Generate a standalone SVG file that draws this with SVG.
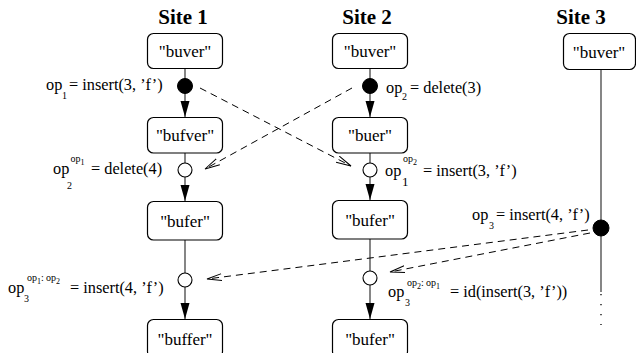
<svg xmlns="http://www.w3.org/2000/svg" width="636" height="353" viewBox="0 0 636 353" font-family="'Liberation Serif', 'Times New Roman', serif">
<defs>
<style>
.box{fill:#fff;stroke:#000;stroke-width:1.2}
.bt{font-size:17px;text-anchor:middle}
.hd{font-size:21px;font-weight:bold;text-anchor:middle}
.t{font-size:16.3px}
.s{font-size:10px}
.ss{font-size:8px}
.v{stroke:#222;stroke-width:1.1;fill:none}
.d{stroke:#000;stroke-width:1;fill:none;stroke-dasharray:7,5}
.fc{fill:#000;stroke:#000}
.oc{fill:#fff;stroke:#000;stroke-width:1.1}
</style>
<marker id="ah" markerWidth="16" markerHeight="10" refX="15" refY="5" orient="auto" markerUnits="userSpaceOnUse">
<path d="M0,1.5 L15,5 L0,8.5" fill="none" stroke="#000" stroke-width="1"/>
</marker>
<marker id="fh" markerWidth="10" markerHeight="16" refX="5" refY="16" orient="0" markerUnits="userSpaceOnUse">
<path d="M0.5,0 L9.5,0 L5,16 Z" fill="#000"/>
</marker>
</defs>

<g id="headers" font-family="'Liberation Serif', serif">
<text class="hd" x="183" y="24">Site 1</text>
<text class="hd" x="367" y="24">Site 2</text>
<text class="hd" x="581" y="24">Site 3</text>
</g>

<g id="connectors">
<line class="v" x1="185" y1="68" x2="185" y2="79"/>
<line class="v" x1="185" y1="93" x2="185" y2="117" marker-end="url(#fh)"/>
<line class="v" x1="185" y1="153" x2="185" y2="163"/>
<line class="v" x1="185" y1="177" x2="185" y2="201" marker-end="url(#fh)"/>
<line class="v" x1="185" y1="240" x2="185" y2="273"/>
<line class="v" x1="185" y1="287" x2="185" y2="319" marker-end="url(#fh)"/>
<line class="v" x1="370" y1="68" x2="370" y2="79"/>
<line class="v" x1="370" y1="93" x2="370" y2="117" marker-end="url(#fh)"/>
<line class="v" x1="370" y1="153" x2="370" y2="163"/>
<line class="v" x1="370" y1="177" x2="370" y2="200" marker-end="url(#fh)"/>
<line class="v" x1="370" y1="239" x2="370" y2="271"/>
<line class="v" x1="370" y1="285" x2="370" y2="319" marker-end="url(#fh)"/>
<line class="v" x1="601" y1="70" x2="601" y2="292"/>
<line x1="601" y1="294" x2="601" y2="325" stroke="#000" stroke-width="1.3" stroke-dasharray="1.3,8.7"/>
<line class="d" x1="200" y1="88" x2="351" y2="166" marker-end="url(#ah)"/>
<line class="d" x1="352" y1="88" x2="205" y2="169" marker-end="url(#ah)"/>
<line class="d" x1="588" y1="230" x2="207" y2="279" marker-end="url(#ah)"/>
<line class="d" x1="590" y1="233" x2="390" y2="272" marker-end="url(#ah)"/>
</g>

<g id="s1-buver"><rect class="box" x="147.5" y="33.5" width="75" height="35" rx="6"/><text class="bt" x="185" y="57" font-family="'Liberation Serif', serif">"buver"</text></g>
<g id="s1-op1"><circle class="fc" cx="185" cy="86" r="7.5"/></g>
<g id="s1-bufver"><rect class="box" x="147.5" y="117.5" width="75" height="35.5" rx="6"/><text class="bt" x="185" y="141" font-family="'Liberation Serif', serif">"bufver"</text></g>
<g id="s1-op2t"><circle class="oc" cx="185" cy="170" r="7"/></g>
<g id="s1-bufer"><rect class="box" x="147.5" y="201.5" width="75" height="38.5" rx="6"/><text class="bt" x="185" y="226.5" font-family="'Liberation Serif', serif">"bufer"</text></g>
<g id="s1-op3t"><circle class="oc" cx="185" cy="280" r="7"/></g>
<g id="s1-buffer"><rect class="box" x="147.5" y="319.5" width="75" height="38" rx="6"/><text class="bt" x="185" y="345" font-family="'Liberation Serif', serif">"buffer"</text></g>

<g id="s2-buver"><rect class="box" x="332.5" y="33.5" width="75" height="35" rx="6"/><text class="bt" x="370" y="57" font-family="'Liberation Serif', serif">"buver"</text></g>
<g id="s2-op2"><circle class="fc" cx="370" cy="86" r="7.5"/></g>
<g id="s2-buer"><rect class="box" x="332.5" y="117.5" width="75" height="35.5" rx="6"/><text class="bt" x="370" y="141" font-family="'Liberation Serif', serif">"buer"</text></g>
<g id="s2-op1t"><circle class="oc" cx="370" cy="170" r="7"/></g>
<g id="s2-bufer"><rect class="box" x="332.5" y="200.5" width="75" height="38.5" rx="6"/><text class="bt" x="370" y="225.5" font-family="'Liberation Serif', serif">"bufer"</text></g>
<g id="s2-op3t"><circle class="oc" cx="370" cy="278" r="7"/></g>
<g id="s2-bufer2"><rect class="box" x="332.5" y="319.5" width="75" height="38" rx="6"/><text class="bt" x="370" y="345" font-family="'Liberation Serif', serif">"bufer"</text></g>

<g id="s3-buver"><rect class="box" x="563.5" y="33.5" width="72" height="36" rx="6"/><text class="bt" x="599" y="57.5" font-family="'Liberation Serif', serif">"buver"</text></g>
<g id="s3-op3"><circle class="fc" cx="601" cy="228" r="8"/></g>

<g id="labels" font-family="'Liberation Serif', serif">
<text class="t" x="46" y="90">op</text><text class="s" x="62" y="99">1</text><text class="t" x="69" y="90">= insert(3, ’f’)</text>

<text class="t" x="386" y="93">op</text><text class="s" x="402" y="100">2</text><text class="t" x="410" y="93">= delete(3)</text>

<text class="t" x="53" y="174">op</text><text class="s" x="70.5" y="162">op</text><text class="ss" x="80.5" y="165">1</text><text class="s" x="67" y="189">2</text><text class="t" x="91" y="174">= delete(4)</text>

<text class="t" x="385" y="176">op</text><text class="t" x="402" y="186" style="font-size:13px">1</text><text class="s" x="403" y="162">op</text><text class="ss" x="413" y="165">2</text><text class="t" x="423" y="176">= insert(3, ’f’)</text>

<text class="t" x="472" y="220">op</text><text class="s" x="489" y="229">3</text><text class="t" x="496" y="220">= insert(4, ’f’)</text>

<text class="t" x="8" y="293">op</text><text class="s" x="24" y="302">3</text><text class="s" x="27" y="281">op</text><text class="ss" x="37" y="284">1</text><text class="s" x="41" y="281">:</text><text class="s" x="46" y="281">op</text><text class="ss" x="56" y="284">2</text><text class="t" x="70" y="293">= insert(4, ’f’)</text>

<text class="t" x="388" y="297">op</text><text class="s" x="405" y="306">3</text><text class="s" x="407" y="286">op</text><text class="ss" x="417" y="289">2</text><text class="s" x="421" y="286">:</text><text class="s" x="426" y="286">op</text><text class="ss" x="436" y="289">1</text><text class="t" x="450" y="297">= id(insert(3, ’f’))</text>
</g>
</svg>
